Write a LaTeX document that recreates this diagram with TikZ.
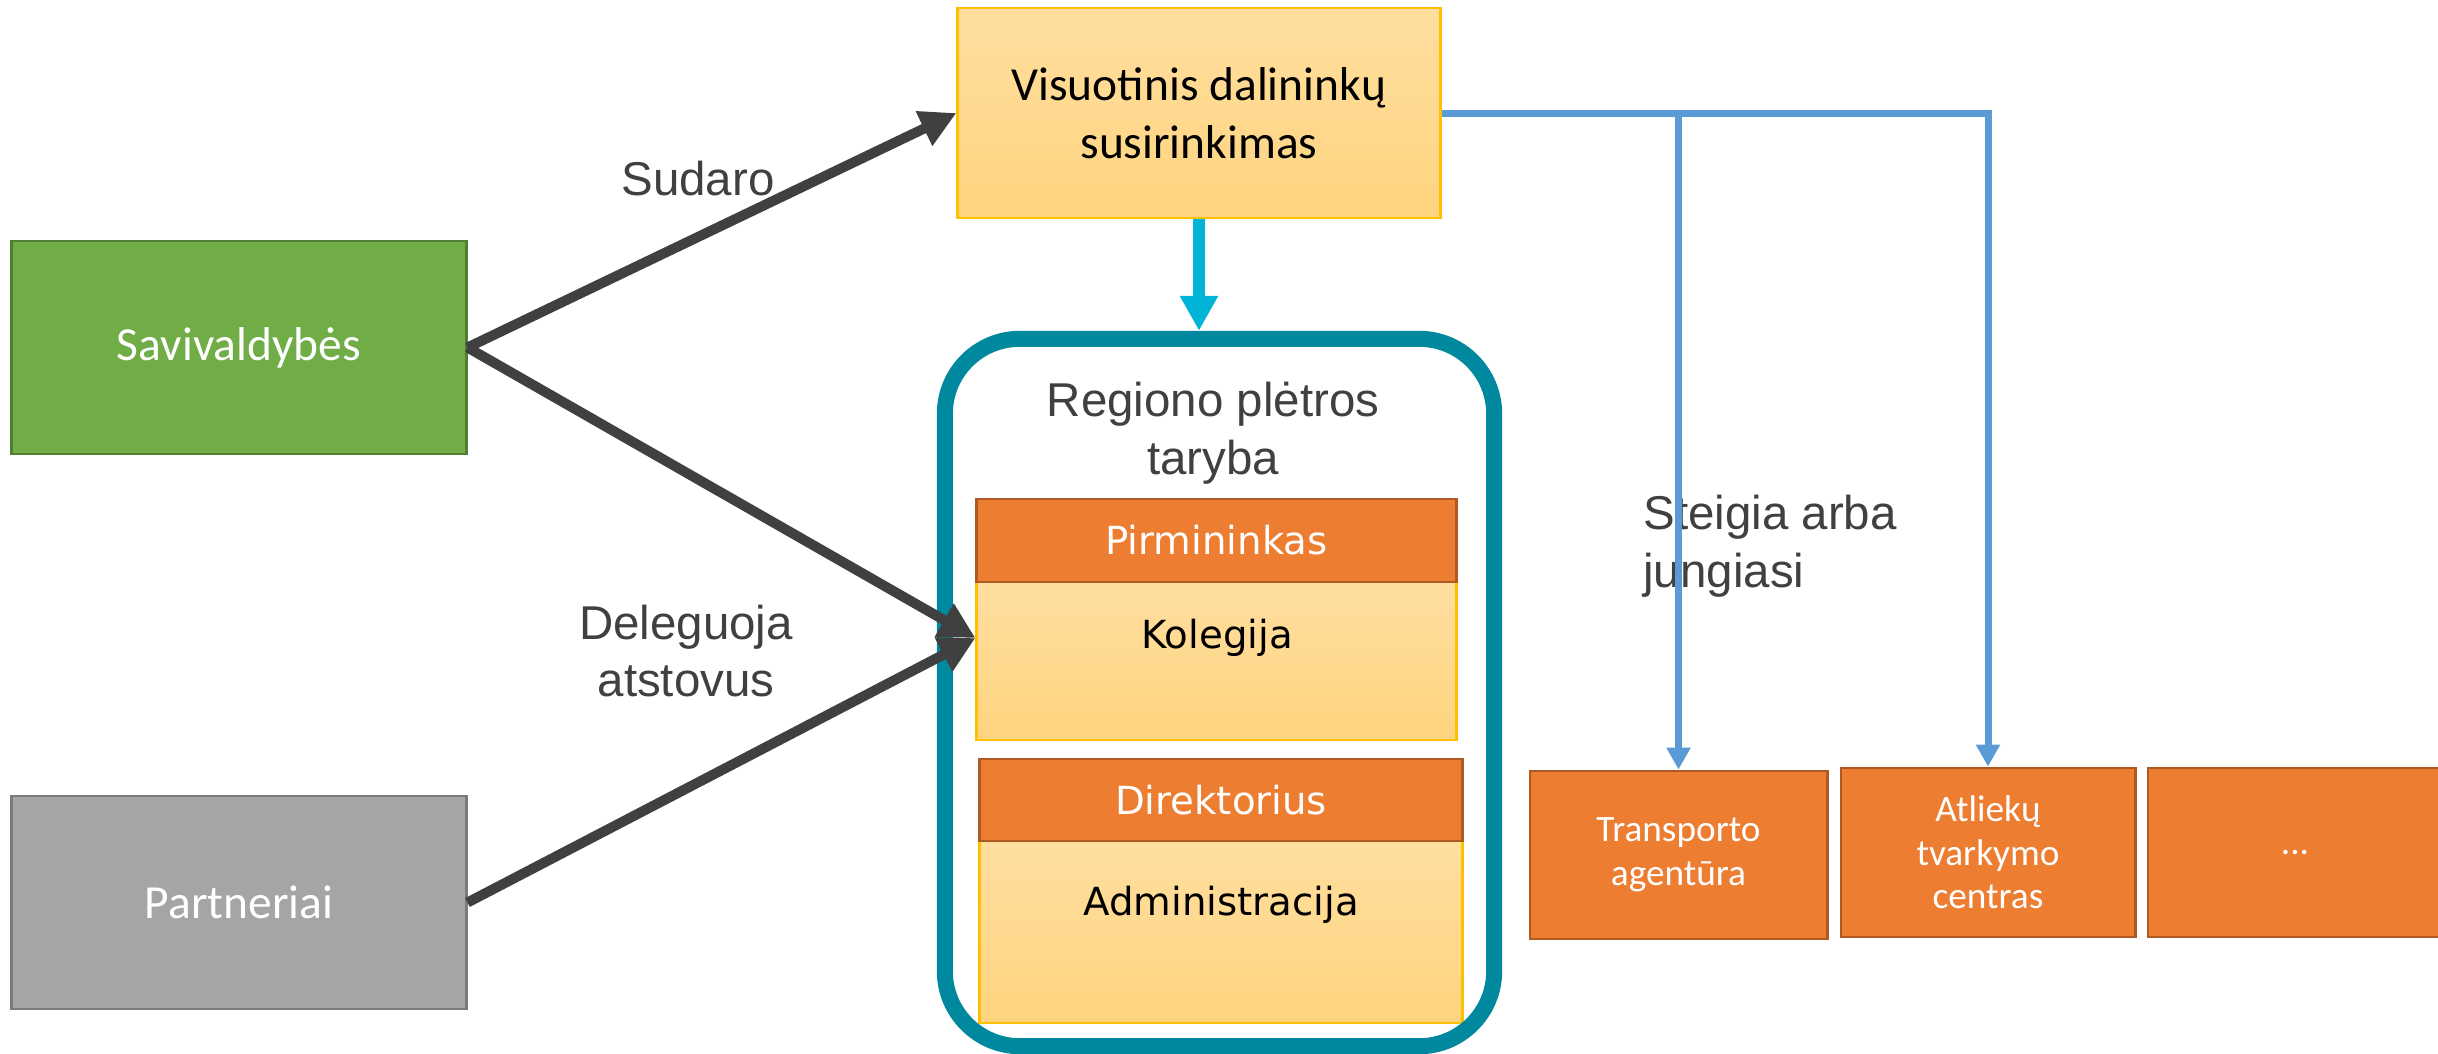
\documentclass[tikz,border=0pt]{standalone}
\usepackage{fontspec}
\setmainfont{Carlito}
\newfontfamily\arialfont{Liberation Sans}
\newfontfamily\verdfont{DejaVu Sans}
\usetikzlibrary{arrows.meta}

\definecolor{savgreen}{HTML}{70AD47}
\definecolor{savgreenline}{HTML}{507E32}
\definecolor{partgrey}{HTML}{A5A5A5}
\definecolor{partgreyline}{HTML}{7B7B7B}
\definecolor{orng}{HTML}{ED7D31}
\definecolor{orngline}{HTML}{AE5A21}
\definecolor{lorTop}{HTML}{FFDE9F}
\definecolor{lorBot}{HTML}{FFD47F}
\definecolor{goldline}{HTML}{FFC000}
\definecolor{tealrim}{HTML}{00899E}
\definecolor{cyanarr}{HTML}{00B4D8}
\definecolor{bluearr}{HTML}{5B9BD5}
\definecolor{labgrey}{HTML}{404040}

\begin{document}
\begin{tikzpicture}[x=0.01cm,y=-0.01cm,
	lab/.style={text=labgrey,align=center,font=\arialfont\fontsize{13.5}{16.4}\selectfont},
	box/.style={draw,line width=0.8pt,inner sep=0pt,align=center,text=white,font=\fontsize{13.5}{16.4}\selectfont},
	unit/.style={box,fill=orng,draw=orngline,font=\fontsize{10.6}{12.4}\selectfont},
	head/.style={box,fill=orng,draw=orngline,font=\verdfont\fontsize{11}{13}\selectfont},
	body/.style={box,top color=lorTop,bottom color=lorBot,draw=goldline,text=black},
	inner/.style={text=black,font=\verdfont\fontsize{11}{13}\selectfont},
	darr/.style={-{Triangle[length=0.36cm,width=0.36cm]},line width=0.1cm,draw=labgrey},
	carr/.style={-{Triangle[length=0.35cm,width=0.36cm]},line width=0.12cm,draw=cyanarr},
	barr/.style={-{Triangle[length=0.22cm,width=0.23cm]},line width=0.07cm,draw=bluearr}]
		\useasboundingbox (0,0) rectangle (2438,1054);

		\node[box,fill=savgreen,draw=savgreenline,minimum width=4.54cm,minimum height=2.13cm] (sav) at (239,347.5) {Savivaldybės};
		\node[box,fill=partgrey,draw=partgreyline,minimum width=4.54cm,minimum height=2.13cm] (part) at (239,902.5) {Partneriai};
		\node[body,minimum width=4.82cm,minimum height=2.10cm] (vis) at (1199,113) {Visuotinis dalininkų\\susirinkimas};

		\node[body,minimum width=4.79cm,minimum height=1.58cm] (kol) at (1216.5,661) {};
		\node[head,minimum width=4.79cm,minimum height=0.83cm] (pirm) at (1216.5,540.5) {Pirmininkas};
		\node[inner] (kolt) at (1217,638) {Kolegija};
		\node[body,minimum width=4.82cm,minimum height=1.82cm] (adm) at (1221,932) {};
		\node[head,minimum width=4.82cm,minimum height=0.82cm] (dir) at (1221,800) {Direktorius};
		\node[inner] (admt) at (1221,905) {Administracija};
		\node[lab] (rptt) at (1213,433) {Regiono plėtros\\taryba};
		\node[draw=tealrim,line width=0.16cm,rounded corners=0.75cm,minimum width=5.49cm,minimum height=7.07cm,inner sep=0pt] (rpt) at (1219.5,692.5) {};

		\node[unit,minimum width=2.97cm,minimum height=1.68cm] (trans) at (1678.5,855) {Transporto\\agentūra};
		\node[unit,minimum width=2.94cm,minimum height=1.69cm] (atl) at (1988,852.5) {Atliekų\\tvarkymo\\centras};
		\node[unit,minimum width=2.94cm,minimum height=1.69cm] (kiti) at (2295,852.5) {...};

		\node[lab] (sudl) at (698,179) {Sudaro};
		\node[lab] (delg) at (686,651) {Deleguoja\\atstovus};
		\node[lab,anchor=west,align=left] (steig) at (1631,546) {Steigia arba\\jungiasi};

		\draw[carr] (vis.south) -- (vis.south |- rpt.north);
		\coordinate (jt) at (trans.north |- vis.east);
		\draw[barr] (vis.east) -| (atl.north);
		\draw[barr] (jt) -- (trans.north);
		\draw[darr] (sav.east) -- (vis.west);
		\draw[darr] (sav.east) -- (kol.west |- kolt);
		\draw[darr] (part.east) -- (kol.west |- kolt);
	\end{tikzpicture}
\end{document}
